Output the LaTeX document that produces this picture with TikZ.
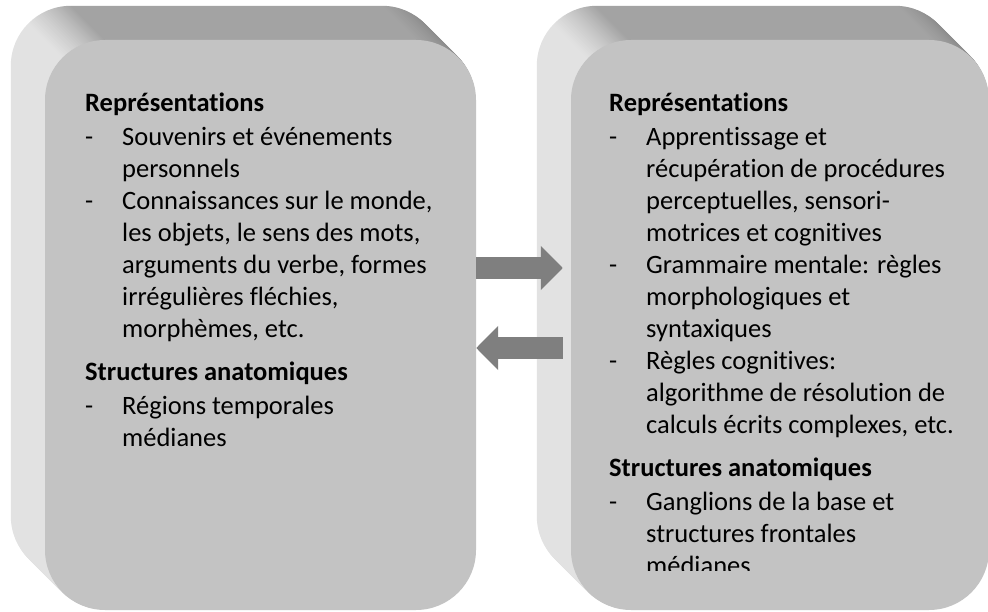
\documentclass[tikz,border=0pt]{standalone}
\usepackage{fontspec}
\setmainfont{Carlito}[Ligatures=NoCommon]
\usetikzlibrary{arrows.meta,backgrounds}
\definecolor{facegray}{HTML}{C3C3C3}
\definecolor{bandlight}{HTML}{E2E2E2}
\definecolor{banddark}{HTML}{A3A3A3}
\definecolor{bandshade}{HTML}{8E8E8E}
\definecolor{arrowgray}{HTML}{7F7F7F}
\pgfdeclarehorizontalshading{bevel}{100bp}{color(0bp)=(bandlight); color(27bp)=(bandlight); color(32bp)=(banddark); color(68bp)=(banddark); color(72bp)=(bandshade); color(100bp)=(bandshade)}
\newcommand{\dashitem}[1]{\makebox[37pt][l]{-}#1}
\newcommand{\contitem}[1]{\hspace*{37pt}#1}

\begin{document}
\begin{tikzpicture}[x=1pt, y=-1pt,
  face/.style={fill=facegray, rounded corners=60pt, inner sep=0pt},
  bodytext/.style={anchor=base west, align=left, inner sep=0pt, font=\fontsize{26.5}{32}\selectfont},
  blockarrow/.style={arrowgray, line width=22pt, -{Triangle[length=22pt,width=43pt]}}]
  \useasboundingbox (0,0) rectangle (988,612);
  \node[face, minimum width=431pt, minimum height=570pt] (LeftFace) at (260.5,325) {};
  \node[face, minimum width=418pt, minimum height=570pt] (RightFace) at (780,325) {};

  \begin{pgfonlayer}{background}
    \foreach \t in {34,33,...,1} {
      \shade[shading=bevel, rounded corners=60pt] ([shift={(-\t,-\t)}]LeftFace.north west) rectangle ([shift={(-\t,-\t)}]LeftFace.south east);
      \shade[shading=bevel, rounded corners=60pt] ([shift={(-\t,-\t)}]RightFace.north west) rectangle ([shift={(-\t,-\t)}]RightFace.south east);
    }
  \end{pgfonlayer}

  \draw[blockarrow] ([yshift=57pt]LeftFace.east) -- ([xshift=-8pt,yshift=57pt]RightFace.west);
  \draw[blockarrow] ([xshift=-8pt,yshift=-23pt]RightFace.west) -- ([yshift=-23pt]LeftFace.east);

  \node[bodytext] (LeftText) at (85,446) {\textbf{Représentations}\\[2pt]
    \dashitem{Souvenirs et événements}\\
    \contitem{personnels}\\
    \dashitem{Connaissances sur le monde,}\\
    \contitem{les objets, le sens des mots,}\\
    \contitem{arguments du verbe, formes}\\
    \contitem{irrégulières fléchies,}\\
    \contitem{morphèmes, etc.}\\[11pt]
    \textbf{Structures anatomiques}\\[2pt]
    \dashitem{Régions temporales}\\
    \contitem{médianes}};

  \begin{scope}
    \clip (RightFace.north west) rectangle ([yshift=40pt]RightFace.south east);
    \node[bodytext] (RightText) at (609,574) {\textbf{Représentations}\\[2pt]
      \dashitem{Apprentissage et}\\
      \contitem{récupération de procédures}\\
      \contitem{perceptuelles, sensori-}\\
      \contitem{motrices et cognitives}\\
      \dashitem{Grammaire mentale: règles}\\
      \contitem{morphologiques et}\\
      \contitem{syntaxiques}\\
      \dashitem{Règles cognitives:}\\
      \contitem{algorithme de résolution de}\\
      \contitem{calculs écrits complexes, etc.}\\[11pt]
      \textbf{Structures anatomiques}\\[2pt]
      \dashitem{Ganglions de la base et}\\
      \contitem{structures frontales}\\
      \contitem{médianes}};
  \end{scope}
\end{tikzpicture}
\end{document}
